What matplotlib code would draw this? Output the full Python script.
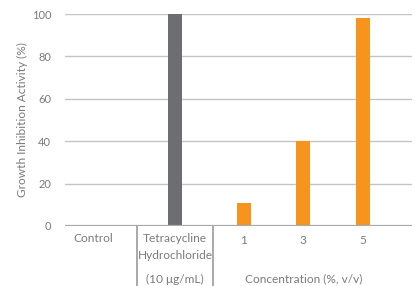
import matplotlib
matplotlib.use("Agg")
import matplotlib.pyplot as plt

categories = ["Control", "Tetracycline\nHydrochloride", "1", "3", "5"]
values = [0, 100, 11, 40, 98]
bar_colors = ["#6d6e71", "#6d6e71", "#f7941d", "#f7941d", "#f7941d"]
group_labels = ["(10 \u03bcg/mL)", "Concentration (%, v/v)"]
yticks = [0, 20, 40, 60, 80, 100]

# layout (data units along x)
positions = [0.47, 1.85, 3.0, 4.0, 5.0]
separators = [1.21, 2.49]
group_centers = [1.85, 4.0]

plt.rcParams["font.family"] = ["Lato", "DejaVu Sans"]
text_color = "#7a7b7e"
fs = 8.6

fig = plt.figure(figsize=(4.15, 2.86), dpi=100)
ax = fig.add_axes([0.157, 0.21, 0.836, 0.741])

ax.bar(positions, values, width=0.235, color=bar_colors, zorder=3)

for t in yticks[1:]:
    ax.axhline(t, color="#c4c4c4", lw=1.0, zorder=1)
ax.axhline(0, color="#a7a9ac", lw=1.6, zorder=4)

ax.set_xlim(0, 5.83)
ax.set_ylim(0, 100)
ax.set_yticks(yticks)
ax.set_yticklabels([str(t) for t in yticks], color=text_color, fontsize=8)
ax.tick_params(axis="y", length=0, pad=10)
ax.set_xticks([])
for s in ax.spines.values():
    s.set_visible(False)

ax.set_ylabel("Growth Inhibition Activity (%)", color=text_color, fontsize=fs, labelpad=3)

trans = ax.get_xaxis_transform()
for x in separators:
    ax.plot([x, x], [0, -0.3], color="#a7a9ac", lw=1.4, transform=trans, clip_on=False)

ax.text(positions[0], -0.035, categories[0], transform=trans, ha="center", va="top",
        color=text_color, fontsize=fs)
ax.text(positions[1], -0.035, categories[1], transform=trans, ha="center", va="top",
        color=text_color, fontsize=fs, linespacing=1.6)
for x, lab in zip(positions[2:], categories[2:]):
    ax.text(x, -0.045, lab, transform=trans, ha="center", va="top",
            color=text_color, fontsize=fs)
for x, lab in zip(group_centers, group_labels):
    ax.text(x, -0.225, lab, transform=trans, ha="center", va="top",
            color=text_color, fontsize=fs)

fig.savefig("out.png", dpi=100)
